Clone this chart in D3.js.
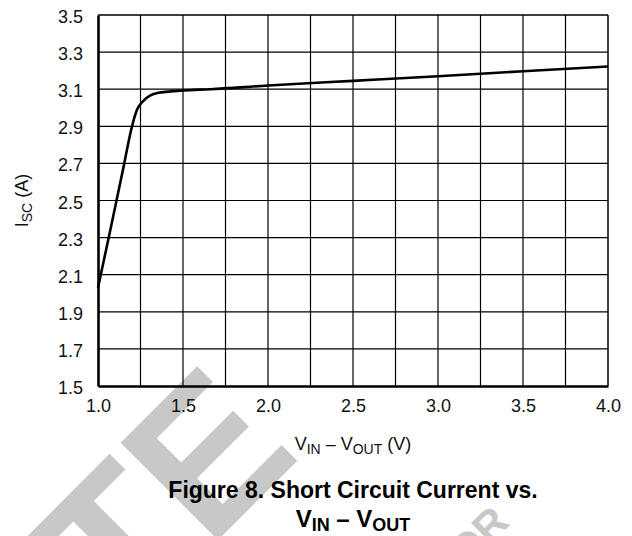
<!DOCTYPE html>
<html>
<head>
<meta charset="utf-8">
<script src="https://cdn.jsdelivr.net/npm/d3@7"></script>
<style>
  body { margin: 0; background: #fff; }
  svg { display: block; font-family: "Liberation Sans", Arial, Helvetica, sans-serif; }
</style>
</head>
<body>
<div id="chart"></div>
<script>
// values
var vinDiff = [1.0, 1.07, 1.15, 1.2, 1.23, 1.27, 1.35, 1.5, 1.66, 2.0, 2.5, 3.0, 3.5, 4.0];
var iscAmps = [2.03, 2.33, 2.68, 2.90, 2.99, 3.04, 3.08, 3.093, 3.10, 3.12, 3.145, 3.17, 3.197, 3.222];

var xTickLabels = [1.0, 1.5, 2.0, 2.5, 3.0, 3.5, 4.0];
var xGrid = [1.25, 1.5, 1.75, 2.0, 2.25, 2.5, 2.75, 3.0, 3.25, 3.5, 3.75];
var yTickLabels = [1.5, 1.7, 1.9, 2.1, 2.3, 2.5, 2.7, 2.9, 3.1, 3.3, 3.5];

var W = 632, H = 536;
var margin = { top: 15, left: 98, right: 24, bottom: 150 },
    width = W - margin.left - margin.right,
    height = H - margin.top - margin.bottom;

var svg = d3.select("#chart")
  .append("svg")
  .attr("width", W)
  .attr("height", H);

// grey watermark behind everything
var wm = svg.append("g").attr("fill", "#c8c8c8").attr("font-weight", "bold");
wm.append("text")
  .attr("transform", "translate(122,636) rotate(-45)")
  .attr("font-size", 200)
  .text("TE");
wm.append("text")
  .attr("transform", "translate(511,524) rotate(-45)")
  .attr("text-anchor", "end")
  .attr("font-size", 42)
  .text("OR");

var g = svg.append("g")
  .attr("transform", "translate(" + margin.left + "," + margin.top + ")");

var x = d3.scaleLinear().domain([1, 4]).range([0, width]);
var y = d3.scaleLinear().domain([1.5, 3.5]).range([height, 0]);

// grid
g.append("g")
  .selectAll("line")
  .data(xGrid)
  .enter().append("line")
  .attr("x1", function(d) { return x(d); })
  .attr("x2", function(d) { return x(d); })
  .attr("y1", 0)
  .attr("y2", height)
  .attr("stroke", "#000")
  .attr("stroke-width", 1.2);

g.append("g")
  .selectAll("line")
  .data(yTickLabels.slice(1, -1))
  .enter().append("line")
  .attr("x1", 0)
  .attr("x2", width)
  .attr("y1", function(d) { return y(d); })
  .attr("y2", function(d) { return y(d); })
  .attr("stroke", "#000")
  .attr("stroke-width", 1.2);

// frame: top/right thin, left/bottom heavy
g.append("line").attr("x1", 0).attr("x2", width).attr("y1", 0).attr("y2", 0)
  .attr("stroke", "#000").attr("stroke-width", 1.5);
g.append("line").attr("x1", width).attr("x2", width).attr("y1", 0).attr("y2", height)
  .attr("stroke", "#000").attr("stroke-width", 1.5);

// axes
var xAxis = d3.axisBottom(x)
  .tickValues(xTickLabels)
  .tickSize(0)
  .tickPadding(13)
  .tickFormat(d3.format(".1f"));

var yAxis = d3.axisLeft(y)
  .tickValues(yTickLabels)
  .tickSize(0)
  .tickPadding(15)
  .tickFormat(d3.format(".1f"));

var gx = g.append("g")
  .attr("transform", "translate(0," + height + ")")
  .call(xAxis);
var gy = g.append("g").call(yAxis);

[gx, gy].forEach(function(a) {
  a.select(".domain").attr("stroke", "#000").attr("stroke-width", 2.6);
  a.selectAll("text")
    .attr("font-family", "Liberation Sans, Arial, sans-serif")
    .attr("font-size", 18)
    .attr("fill", "#111");
});
gy.selectAll("text").attr("dy", "0.42em");

// curve
var line = d3.line()
  .x(function(d, i) { return x(vinDiff[i]); })
  .y(function(d) { return y(d); })
  .curve(d3.curveMonotoneX);

g.append("path")
  .datum(iscAmps)
  .attr("d", line)
  .attr("fill", "none")
  .attr("stroke", "#000")
  .attr("stroke-width", 2.6)
  .attr("stroke-linejoin", "round");

// axis titles
var midX = margin.left + width / 2;

var xt = svg.append("text")
  .attr("x", midX)
  .attr("y", 450)
  .attr("text-anchor", "middle")
  .attr("font-size", 18)
  .attr("fill", "#111");
xt.append("tspan").text("V");
xt.append("tspan").attr("font-size", 14).attr("dy", 4).text("IN");
xt.append("tspan").attr("dy", -4).text(" \u2013 V");
xt.append("tspan").attr("font-size", 14).attr("dy", 4).text("OUT");
xt.append("tspan").attr("dy", -4).text(" (V)");

var yt = svg.append("text")
  .attr("transform", "translate(28," + (margin.top + height / 2) + ") rotate(-90)")
  .attr("text-anchor", "middle")
  .attr("font-size", 18)
  .attr("fill", "#111");
yt.append("tspan").text("I");
yt.append("tspan").attr("font-size", 14).attr("dy", 4).text("SC");
yt.append("tspan").attr("dy", -4).text(" (A)");

// caption
svg.append("text")
  .attr("x", midX)
  .attr("y", 498)
  .attr("text-anchor", "middle")
  .attr("font-size", 23)
  .attr("font-weight", "bold")
  .text("Figure 8. Short Circuit Current vs.");

var cap2 = svg.append("text")
  .attr("x", midX)
  .attr("y", 527)
  .attr("text-anchor", "middle")
  .attr("font-size", 24)
  .attr("font-weight", "bold");
cap2.append("tspan").text("V");
cap2.append("tspan").attr("font-size", 18).attr("dy", 4).text("IN");
cap2.append("tspan").attr("dy", -4).text(" \u2013 V");
cap2.append("tspan").attr("font-size", 18).attr("dy", 4).text("OUT");
</script>
</body>
</html>
